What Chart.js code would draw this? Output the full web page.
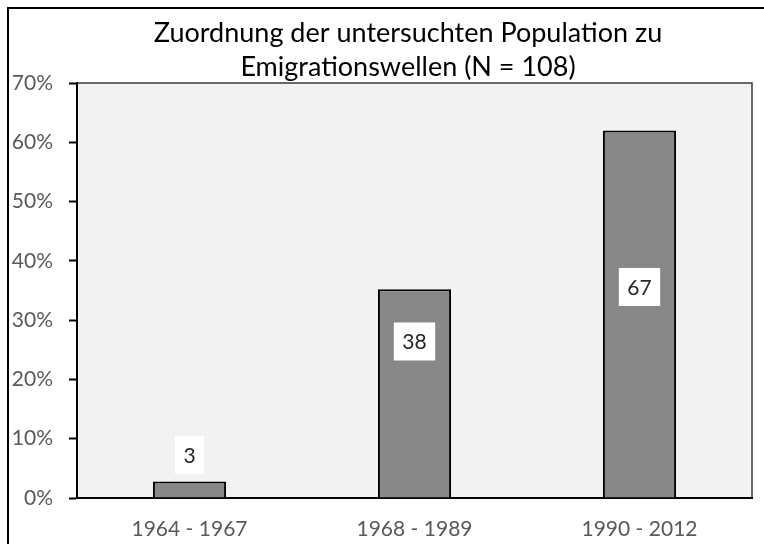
<!DOCTYPE html>
<html>
<head>
<meta charset="utf-8">
<script src="https://cdn.jsdelivr.net/npm/chart.js@4.4.1/dist/chart.umd.min.js"></script>
<style>
  html, body { margin: 0; padding: 0; background: #fff; overflow: hidden; }
  #wrap { position: relative; width: 764px; height: 544px; }
  #frame { position: absolute; left: 7px; top: 7px; width: 800px; height: 600px;
           border-left: 2px solid #000; border-top: 2px solid #000; pointer-events: none; }
</style>
</head>
<body>
<div id="wrap">
  <canvas id="myChart" width="764" height="544"></canvas>
  <div id="frame"></div>
</div>
<script>
const titleLines = ["Zuordnung der untersuchten Population zu", "Emigrationswellen (N = 108)"];
const categories = ["1964 - 1967", "1968 - 1989", "1990 - 2012"];
const shares = [2.8, 35.2, 62.0];      // Anteil in %
const counts = [3, 38, 67];            // Anzahl Personen
const labelAt = [7.25, 26.4, 35.6];    // Hoehe der Beschriftung (in %)
const yTicks = [0, 10, 20, 30, 40, 50, 60, 70];

const chartDOM = document.getElementById("myChart");
const FONT = "Lato, 'Open Sans', sans-serif";

const plotBg = {
  id: "plotBg",
  beforeDraw(chart) {
    const {ctx, chartArea: a} = chart;
    ctx.save();
    ctx.fillStyle = "#f2f2f2";
    ctx.fillRect(a.left, a.top, a.right - a.left, a.bottom - a.top);
    ctx.strokeStyle = "#3a3a3a";
    ctx.lineWidth = 1.5;
    ctx.strokeRect(a.left, a.top, a.right - a.left, a.bottom - a.top);
    ctx.restore();
  }
};

const titlePlugin = {
  id: "titleLines",
  afterDraw(chart) {
    const ctx = chart.ctx;
    ctx.save();
    ctx.fillStyle = "#000";
    ctx.font = "27px " + FONT;
    ctx.textAlign = "center";
    ctx.textBaseline = "middle";
    titleLines.forEach((t, i) => ctx.fillText(t, 408, 33 + i * 34));
    ctx.restore();
  }
};

const valueLabels = {
  id: "valueLabels",
  afterDatasetsDraw(chart) {
    const ctx = chart.ctx;
    const y = chart.scales.y;
    const bars = chart.getDatasetMeta(0).data;
    ctx.save();
    ctx.font = "21px " + FONT;
    ctx.textAlign = "center";
    ctx.textBaseline = "middle";
    bars.forEach((bar, i) => {
      const txt = String(counts[i]);
      const w = ctx.measureText(txt).width + 17;
      const h = 38;
      const cy = y.getPixelForValue(labelAt[i]);
      ctx.fillStyle = "#fff";
      ctx.fillRect(bar.x - w / 2, cy - h / 2, w, h);
      ctx.fillStyle = "#262626";
      ctx.fillText(txt, bar.x, cy + 1);
    });
    ctx.restore();
  }
};

const config = {
  type: "bar",
  data: {
    labels: categories,
    datasets: [{
      data: shares,
      backgroundColor: "#888888",
      borderColor: "#000",
      borderWidth: 2,
      categoryPercentage: 1,
      barPercentage: 0.325
    }]
  },
  options: {
    responsive: false,
    devicePixelRatio: 1,
    animation: false,
    layout: { padding: { top: 83, right: 12, left: 0, bottom: 0 } },
    plugins: { legend: { display: false }, tooltip: { enabled: false }, title: { display: false } },
    scales: {
      x: {
        offset: true,
        grid: { display: false, drawTicks: false },
        border: { color: "#000", width: 2 },
        ticks: { color: "#595959", font: { size: 21, family: FONT }, padding: 19 },
        afterFit(s) { s.height = 46; }
      },
      y: {
        min: 0,
        max: 70,
        afterBuildTicks(s) { s.ticks = yTicks.map(v => ({ value: v })); },
        grid: { display: true, drawOnChartArea: false, tickLength: 8, tickColor: "#000", tickWidth: 2 },
        border: { color: "#000", width: 2 },
        ticks: { color: "#595959", font: { size: 21, family: FONT }, padding: 16,
                 callback: v => v + "%" },
        afterFit(s) { s.width = 77; }
      }
    }
  },
  plugins: [plotBg, titlePlugin, valueLabels]
};

new Chart(chartDOM, config);
</script>
</body>
</html>
